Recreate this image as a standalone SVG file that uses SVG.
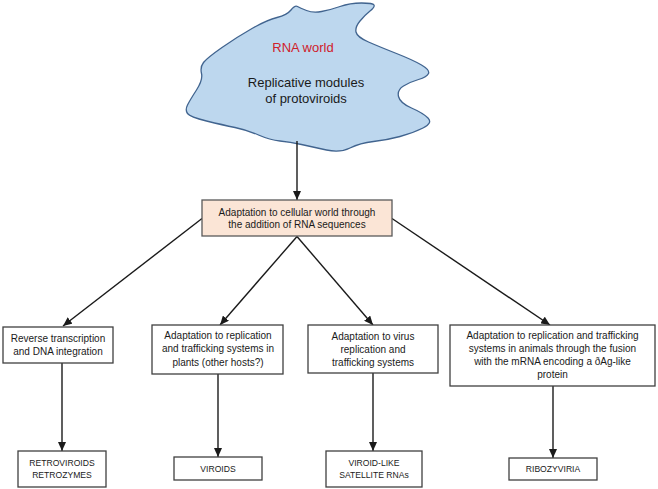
<svg xmlns="http://www.w3.org/2000/svg" width="658" height="489" viewBox="0 0 658 489">
<style>
  .bx { fill: #ffffff; stroke: #404040; stroke-width: 1.3; }
  .bxa { fill: #fbe5d6; stroke: #595959; stroke-width: 1.3; }
  .t { font-family: "Liberation Sans", Arial, sans-serif; font-size: 10px; fill: #1a1a1a; text-anchor: middle; }
  .tc { font-family: "Liberation Sans", Arial, sans-serif; font-size: 8.6px; fill: #1a1a1a; text-anchor: middle; }
  .tl { font-family: "Liberation Sans", Arial, sans-serif; font-size: 13px; fill: #1a1a1a; text-anchor: middle; }
  .c { stroke: #1a1a1a; stroke-width: 1.4; fill: none; marker-end: url(#ah); }
</style>
<defs>
  <marker id="ah" markerUnits="userSpaceOnUse" markerWidth="9" markerHeight="8" refX="9" refY="4" orient="auto">
    <path d="M0,0 L9,4 L0,8 z" fill="#1a1a1a"/>
  </marker>
</defs>
<rect width="658" height="489" fill="#ffffff"/>

<g id="cloud">
  <path d="M 297.5,6.5 Q 295,5 291,10 Q 287,15 277,17.5 Q 267,20 252,28.5 Q 237,37 222,47.5 Q 207,58 203.5,62.5 Q 200,67 201.5,73.5 Q 203,80 196.5,90 Q 190,100 187.5,105 Q 185,110 187.5,113.5 Q 190,117 206.5,121 Q 223,125 235,127.5 Q 247,130 258.5,135 Q 270,140 280,141 Q 290,142 301.5,144.5 Q 313,147 326.5,150 Q 340,153 350,148 Q 360,143 373.5,141.5 Q 387,140 400,136.5 Q 413,133 423,128 Q 433,123 428,118 Q 423,113 411.5,108 Q 400,103 398.5,96.5 Q 397,90 403.5,86 Q 410,82 418.5,79.5 Q 427,77 428.5,73.5 Q 430,70 421.5,65 Q 413,60 396.5,53.5 Q 380,47 368.5,42 Q 357,37 356,32 Q 355,27 360,21 Q 365,15 370,11 Q 375,7 374,5 Q 373,3 361.5,3 Q 350,3 340,6.5 Q 330,10 321.5,11.5 Q 313,13 306.5,10.5 Q 300,8 297.5,6.5 Z" fill="#bdd7ee" stroke="#41648f" stroke-width="1.3"/>
  <text class="tl" x="303" y="52" fill="#d0202a" style="fill:#d0202a">RNA world</text>
  <text class="tl" x="306" y="87">Replicative modules</text>
  <text class="tl" x="306" y="103">of protoviroids</text>
</g>

<g id="connectors">
  <line class="c" x1="297" y1="141" x2="297" y2="200"/>
  <line class="c" x1="202" y1="218.5" x2="63" y2="326"/>
  <line class="c" x1="297" y1="236.5" x2="220" y2="325"/>
  <line class="c" x1="297" y1="236.5" x2="373" y2="325"/>
  <line class="c" x1="392" y1="218.5" x2="550" y2="325"/>
  <line class="c" x1="62" y1="363" x2="62" y2="451"/>
  <line class="c" x1="218" y1="374" x2="218" y2="457"/>
  <line class="c" x1="373" y1="373" x2="373" y2="451"/>
  <line class="c" x1="553" y1="386" x2="553" y2="458"/>
</g>

<g id="cellular">
  <rect class="bxa" x="202" y="200" width="190" height="36"/>
  <text class="t" x="297" y="215.5">Adaptation to cellular world through</text>
  <text class="t" x="297" y="227.5">the addition of RNA sequences</text>
</g>

<g id="reverse">
  <rect class="bx" x="3" y="327" width="110" height="36"/>
  <text class="t" x="58" y="341.5">Reverse transcription</text>
  <text class="t" x="58" y="355">and DNA integration</text>
</g>

<g id="plants">
  <rect class="bx" x="152" y="325" width="131" height="49"/>
  <text class="t" x="218" y="338.5">Adaptation to replication</text>
  <text class="t" x="218" y="352">and trafficking systems in</text>
  <text class="t" x="218" y="365.5">plants (other hosts?)</text>
</g>

<g id="virus">
  <rect class="bx" x="308" y="325" width="130" height="48"/>
  <text class="t" x="373" y="339.5">Adaptation to virus</text>
  <text class="t" x="373" y="352.5">replication and</text>
  <text class="t" x="373" y="365.5">trafficking systems</text>
</g>

<g id="animals">
  <rect class="bx" x="450" y="325" width="205" height="61"/>
  <text class="t" x="552.5" y="338.5">Adaptation to replication and trafficking</text>
  <text class="t" x="552.5" y="351.5">systems in animals through the fusion</text>
  <text class="t" x="552.5" y="364.5">with the mRNA encoding a ðAg-like</text>
  <text class="t" x="552.5" y="377.5">protein</text>
</g>

<g id="retro">
  <rect class="bx" x="18" y="451" width="88" height="36"/>
  <text class="tc" x="62" y="465.5">RETROVIROIDS</text>
  <text class="tc" x="62" y="478">RETROZYMES</text>
</g>

<g id="viroids">
  <rect class="bx" x="174" y="457" width="88" height="23"/>
  <text class="tc" x="218" y="471.5">VIROIDS</text>
</g>

<g id="satellite">
  <rect class="bx" x="326" y="451" width="96" height="36"/>
  <text class="tc" x="374" y="465.5">VIROID-LIKE</text>
  <text class="tc" x="374" y="478">SATELLITE RNAs</text>
</g>

<g id="ribozyviria">
  <rect class="bx" x="509" y="458" width="88" height="22"/>
  <text class="tc" x="553" y="472">RIBOZYVIRIA</text>
</g>
</svg>
